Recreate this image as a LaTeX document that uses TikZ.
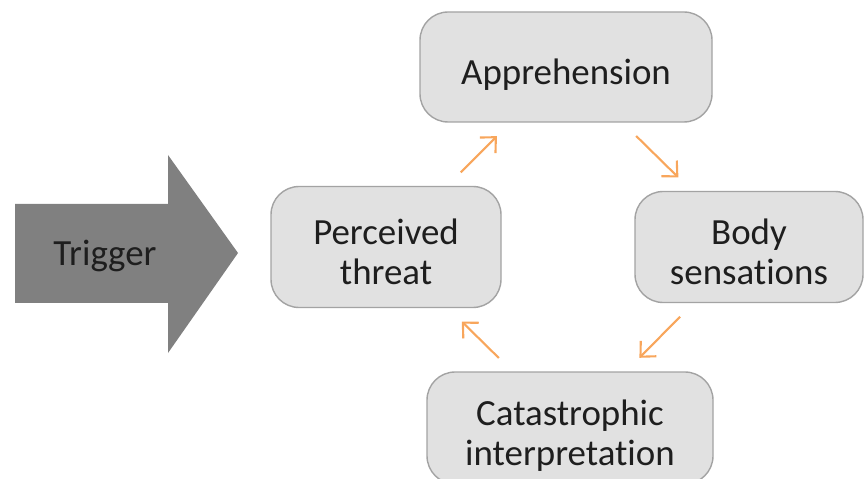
\documentclass[tikz,border=0pt]{standalone}
\usepackage{fontspec}
\setmainfont[Ligatures=NoCommon]{Carlito}
\usetikzlibrary{positioning,arrows.meta}

\definecolor{boxfill}{HTML}{E1E1E1}
\definecolor{boxline}{HTML}{A3A3A3}
\definecolor{trigfill}{HTML}{808080}
\definecolor{cycorange}{HTML}{F8A65C}
\definecolor{txt}{HTML}{1E1E1E}

% text sits a little low in the boxes
\newcommand\stagetext[1]{\raisebox{-10.5pt}[0pt][0pt]{\begin{tabular}{@{}c@{}}#1\end{tabular}}}

\tikzset{
  stage/.style={draw=boxline,fill=boxfill,rounded corners=16pt,line width=0.8pt,
    text=txt,font=\fontsize{21}{23}\selectfont,inner sep=0pt},
  cyc/.style={draw=cycorange,line width=1.2pt,
    -{Straight Barb[length=2.3mm,width=4.4mm]},
    shorten <=0.38cm,shorten >=0.38cm}
}

\begin{document}
\begin{tikzpicture}[x=0.02cm,y=-0.02cm]
\useasboundingbox (0,0) rectangle (865,479);

% trigger arrow
\fill[trigfill] (15,204) -- (168,204) -- (168,155) -- (238,253) -- (168,353) -- (168,303) -- (15,303) -- cycle;
\node[text=txt,font=\fontsize{21}{23}\selectfont] (trig) at (105,256) {Trigger};

% cycle
\node[stage,minimum width=292*0.02cm,minimum height=110*0.02cm] (appr) at (566,67) {\stagetext{Apprehension}};
\node[stage,minimum width=228*0.02cm,minimum height=111*0.02cm] (body) at (749,247) {\stagetext{Body\\sensations}};
\node[stage,minimum width=286*0.02cm,minimum height=112*0.02cm] (cata) at (570,428) {\stagetext{Catastrophic\\interpretation}};
\node[stage,minimum width=230*0.02cm,minimum height=121*0.02cm] (perc) at (386,247) {\stagetext{Perceived\\threat}};

\draw[cyc] (perc) -- (appr);
\draw[cyc] (appr) -- (body);
\draw[cyc] (body) -- (cata);
\draw[cyc] (cata) -- (perc);

\end{tikzpicture}
\end{document}
